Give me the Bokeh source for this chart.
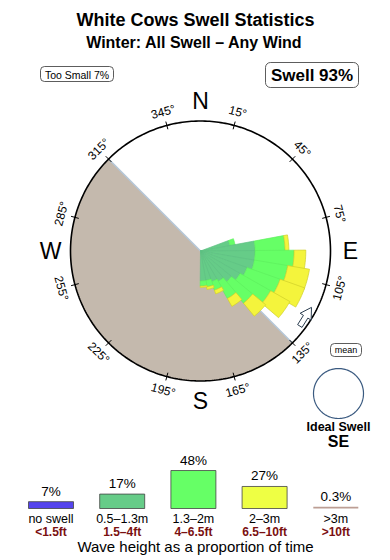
import numpy as np
from bokeh.plotting import figure
from bokeh.models import Range1d
from bokeh.core.properties import value
from bokeh.embed import file_html
from bokeh.resources import INLINE

# ---------------- data ----------------
title_text = "White Cows Swell Statistics"
subtitle_text = "Winter: All Swell – Any Wind"
too_small_text = "Too Small 7%"
swell_text = "Swell 93%"

# rose: direction bins (deg, swell from) and band lengths (% of compass radius)
rose_dirs = [75, 85, 95, 105, 115, 125, 135, 145, 155, 165, 175]
rose_small = [23, 42, 42, 42, 38, 35, 31, 27, 25, 23, 23]    # 0.5–1.3m
rose_medium = [4, 23, 30, 26, 27, 27, 21, 15, 7, 5, 4]       # 1.3–2m
rose_large = [0, 3, 9, 17, 20, 17, 13, 7, 3, 2, 1]           # 2–3m

tick_bearings = [15, 45, 75, 105, 135, 165, 195, 225, 255, 285, 315, 345]
tick_labels = ["15°", "45°", "75°", "105°", "135°", "165°", "195°", "225°",
               "255°", "285°", "315°", "345°"]
cardinal_labels = ["N", "E", "S", "W"]
cardinal_bearings = [0, 90, 180, 270]

land_start, land_end = 135, 315      # land sector (through S and W)
mean_dir = 122

legend_pct = [7, 17, 48, 27, 0.3]
legend_pct_labels = ["7%", "17%", "48%", "27%", "0.3%"]
legend_m = ["no swell", "0.5–1.3m", "1.3–2m", "2–3m", ">3m"]
legend_ft = ["<1.5ft", "1.5–4ft", "4–6.5ft", "6.5–10ft", ">10ft"]
legend_colors = ["#5544ee", "#66cc88", "#66ff66", "#eeff44", "#bc9e94"]

ideal_label = "Ideal Swell"
ideal_dir = "SE"

# ---------------- layout ----------------
W, H = 390, 560
CX, CY, R = 200.0, 250.5, 130.0
SC = R / 100.0
FONT = "Liberation Sans"

p = figure(width=W, height=H, output_backend="svg", toolbar_location=None,
           x_range=Range1d(0, W), y_range=Range1d(H, 0),
           min_border=0, outline_line_color=None, background_fill_color="white")
p.axis.visible = False
p.grid.visible = False


def pol(b, r):
    t = np.radians(b)
    return CX + r * np.sin(t), CY - r * np.cos(t)


def sector(b0, b1, r0, r1, n=14):
    th = np.linspace(b0, b1, n)
    xo, yo = pol(th, r1)
    if r0 <= 0:
        return [CX] + list(xo), [CY] + list(yo)
    xi, yi = pol(th[::-1], r0)
    return list(xo) + list(xi), list(yo) + list(yi)


def txt(x, y, t, size, color="black", style="normal", align="center",
        baseline="middle", angle=0.0):
    p.text(x=[x], y=[y], text=[t], text_font=value(FONT),
           text_font_size=f"{size}px", text_font_style=style,
           text_color=color, text_align=align, text_baseline=baseline,
           angle=[angle])


# land sector
lx, ly = sector(land_start, land_end, 0, R, n=90)
p.patch(lx, ly, fill_color="#c4b9ad", line_color=None)
sx, sy = pol(np.array([land_end, land_start]), R)
p.line(list(sx), list(sy), line_color="#b4c6d8", line_width=1.5)

# rose
pxs, pys, pfill, pline = [], [], [], []
band_fill = ["#66cc88", "#66ff66", "#f4f43c"]
band_line = ["#60c184", "#5fef5f", "#cfcf2a"]
for d, a, b, c in zip(rose_dirs, rose_small, rose_medium, rose_large):
    edges = np.cumsum([0, a, b, c]) * SC
    for k in range(3):
        if edges[k + 1] - edges[k] <= 0:
            continue
        xs, ys = sector(d - 5.5, d + 5.5, edges[k], edges[k + 1])
        pxs.append(xs); pys.append(ys)
        pfill.append(band_fill[k]); pline.append(band_line[k])
p.patches(pxs, pys, fill_color=pfill, line_color=pline, line_width=0.7)

# compass circle
cx_, cy_ = pol(np.linspace(0, 360, 361), R)
p.line(list(cx_), list(cy_), line_color="black", line_width=1.6)

# ticks
tb = np.array(tick_bearings, dtype=float)
x0, y0 = pol(tb, R - 4)
x1, y1 = pol(tb, R + 4)
p.segment(x0, y0, x1, y1, line_color="black", line_width=1)

for b, lab in zip(tick_bearings, tick_labels):
    x, y = pol(b, R + 14)
    cw = b - 180 if 90 < b < 270 else b
    txt(x, y, lab, 12, angle=-np.radians(cw))

for b, lab in zip(cardinal_bearings, cardinal_labels):
    x, y = pol(b, R + 20)
    txt(x, y, lab, 23)

# mean-direction arrow (hollow), lying along the circle, pointing anticlockwise
ax, ay = pol(mean_dir, R - 6)
tang = np.radians(mean_dir - 90)
t = np.array([np.sin(tang), -np.cos(tang)])
n = np.array([-t[1], t[0]])
L, hh, HW, SW = 22, 11, 6.5, 2.6
local = [(-L / 2, -SW), (L / 2 - hh, -SW), (L / 2 - hh, -HW), (L / 2, 0),
         (L / 2 - hh, HW), (L / 2 - hh, SW), (-L / 2, SW)]
arx = [ax + u * t[0] + v * n[0] for u, v in local]
ary = [ay + u * t[1] + v * n[1] for u, v in local]
p.patch(arx, ary, fill_color="white", line_color="#2c3e50", line_width=1)

# titles
txt(195, 19, title_text, 18, style="bold")
txt(194, 42, subtitle_text, 16, style="bold")

# boxes
p.quad(left=[40], right=[113], top=[66], bottom=[81], fill_color="white",
       line_color="#333333", line_width=0.8, border_radius=4)
txt(76.5, 74, too_small_text, 10.5)
p.quad(left=[265], right=[358], top=[62], bottom=[87], fill_color="white",
       line_color="#333333", line_width=0.8, border_radius=5)
txt(311.5, 75, swell_text, 17, style="bold")

# ideal swell legend
p.quad(left=[330], right=[361], top=[343], bottom=[356], fill_color="white",
       line_color="#333333", line_width=0.8, border_radius=4)
txt(345.5, 349.5, "mean", 9)
ix, iy = np.cos(np.linspace(0, 2 * np.pi, 121)), np.sin(np.linspace(0, 2 * np.pi, 121))
p.line(list(338 + 25 * ix), list(393 + 25 * iy), line_color="#3a5a80", line_width=1.2)
txt(338, 426, ideal_label, 12.5, style="bold")
txt(338, 441, ideal_dir, 16, style="bold")

# bottom legend
base = 508.0
centers = [50.5 + 71.2 * i for i in range(len(legend_pct))]
tops = [base - (1.5 + v * 0.76) for v in legend_pct]
p.quad(left=[c - 22.5 for c in centers[:4]], right=[c + 22.5 for c in centers[:4]],
       top=tops[:4], bottom=[base] * 4, fill_color=legend_colors[:4],
       line_color="#444444", line_width=0.8)
p.quad(left=[centers[4] - 22.5], right=[centers[4] + 22.5], top=[tops[4]],
       bottom=[base], fill_color=legend_colors[4], line_color=None)
for c, tp, lab, m, ft in zip(centers, tops, legend_pct_labels, legend_m, legend_ft):
    txt(c, tp - 3, lab, 13.5, baseline="bottom")
    txt(c, 518.5, m, 12.5)
    txt(c, 531, ft, 12, color="#7a1010", style="bold")
txt(195, 546, "Wave height as a proportion of time", 15)

open("out.html", "w").write(file_html(p, INLINE))
